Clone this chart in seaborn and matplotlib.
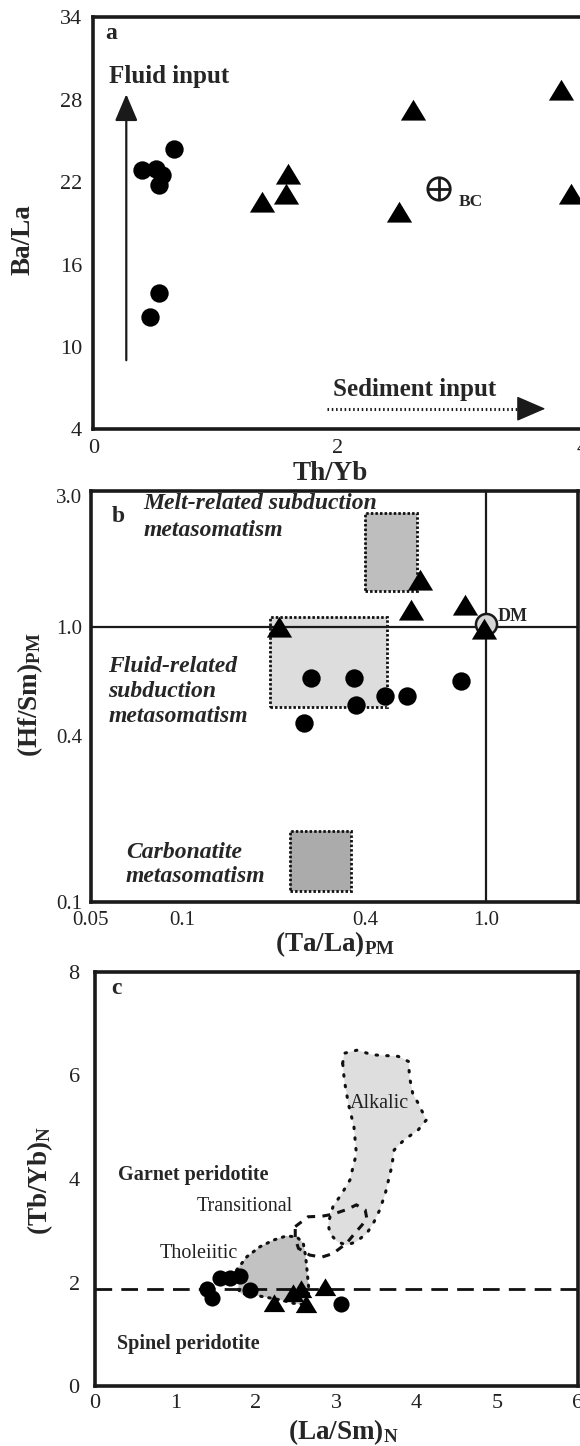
import numpy as np
import pandas as pd
import matplotlib
matplotlib.use("Agg")
import matplotlib.pyplot as plt
import seaborn as sns
from matplotlib.path import Path
from matplotlib.patches import Rectangle, Polygon
from matplotlib.ticker import FixedLocator, FuncFormatter, NullFormatter

sns.set_style("white")
plt.rcParams["font.family"] = ["Liberation Serif", "DejaVu Serif"]
plt.rcParams["mathtext.fontset"] = "custom"
plt.rcParams["mathtext.rm"] = "Liberation Serif"
plt.rcParams["mathtext.bf"] = "Liberation Serif:bold"
plt.rcParams["mathtext.it"] = "Liberation Serif:italic"

# ---------------- data: panel a (Th/Yb vs Ba/La) ----------------
a_circ_x = [0.40, 0.51, 0.56, 0.54, 0.66, 0.54, 0.46]
a_circ_y = [22.86, 22.95, 22.5, 21.76, 24.4, 13.96, 12.18]
a_tri_x = [1.38, 1.59, 1.58, 2.50, 2.62, 3.83, 3.91]
a_tri_y = [20.55, 22.56, 21.15, 19.8, 27.24, 28.7, 21.15]
bc_point = (2.83, 21.5)
a_xticks = [0, 1, 2, 3, 4]
a_xlabels = ["0", "", "2", "", "4"]
a_yticks = [4, 7, 10, 13, 16, 19, 22, 25, 28, 31, 34]
a_ylabels = ["4", "", "10", "", "16", "", "22", "", "28", "", "34"]

# ---------------- data: panel b ((Ta/La)PM vs (Hf/Sm)PM) ----------------
b_circ_x = [0.265, 0.367, 0.373, 0.464, 0.55, 0.251, 0.823]
b_circ_y = [0.653, 0.653, 0.521, 0.5625, 0.5625, 0.445, 0.634]
b_tri_x = [0.208, 0.604, 0.567, 0.854, 0.986]
b_tri_y = [1.0, 1.48, 1.15, 1.20, 0.986]
dm_point = (1.0, 1.02)
melt_box = (0.40, 0.593, 1.35, 2.6)
fluid_box = (0.194, 0.472, 0.51, 1.09)
carb_box = (0.227, 0.359, 0.109, 0.181)
b_xticks = [0.05, 0.1, 0.4, 1.0]
b_xlabels = ["0.05", "0.1", "0.4", "1.0"]
b_xminor = [0.2, 0.3, 0.5, 0.6, 0.7, 0.8, 0.9]
b_yticks = [0.1, 0.4, 1.0, 3.0]
b_ylabels = ["0.1", "0.4", "1.0", "3.0"]
b_yminor = [0.2, 0.3, 0.5, 0.6, 0.7, 0.8, 0.9, 2.0]

# ---------------- data: panel c ((La/Sm)N vs (Tb/Yb)N) ----------------
c_circ_x = [1.39, 1.45, 1.56, 1.68, 1.80, 1.93, 3.06]
c_circ_y = [1.87, 1.71, 2.08, 2.08, 2.12, 1.855, 1.585]
c_tri_x = [2.23, 2.46, 2.56, 2.63, 2.86]
c_tri_y = [1.60, 1.80, 1.87, 1.585, 1.92]
garnet_spinel_y = 1.88
thol_x = [1.76, 1.89, 2.05, 2.22, 2.38, 2.51, 2.59, 2.62, 2.64, 2.66, 2.64, 2.46, 2.32, 2.04, 1.81, 1.79]
thol_y = [2.24, 2.50, 2.69, 2.82, 2.90, 2.88, 2.76, 2.50, 2.18, 1.855, 1.565, 1.60, 1.66, 1.74, 1.79, 1.855]
trans_x = [2.49, 2.65, 2.82, 2.96, 3.13, 3.25, 3.36, 3.38, 3.32, 3.23, 3.13, 2.96, 2.82, 2.67, 2.53, 2.49]
trans_y = [3.08, 3.27, 3.28, 3.32, 3.41, 3.50, 3.40, 3.24, 3.11, 2.95, 2.76, 2.56, 2.49, 2.53, 2.66, 2.85]
alk_x = [3.08, 3.10, 3.26, 3.45, 3.77, 3.90, 3.91, 3.95, 4.02, 4.12, 4.02, 3.84, 3.72, 3.69, 3.65,
         3.61, 3.54, 3.46, 3.38, 3.25, 3.13, 3.01, 2.92, 2.90, 2.96, 3.07, 3.17, 3.21, 3.25, 3.22,
         3.15, 3.10]
alk_y = [6.24, 6.43, 6.49, 6.40, 6.37, 6.27, 5.98, 5.66, 5.46, 5.14, 4.95, 4.75, 4.56, 4.24, 3.98,
         3.72, 3.40, 3.14, 2.95, 2.79, 2.72, 2.79, 2.95, 3.14, 3.47, 3.72, 3.98, 4.24, 4.49, 5.01,
         5.46, 5.91]
c_xticks = [0, 1, 2, 3, 4, 5, 6]
c_yticks = [0, 2, 4, 6, 8]

# ---------------- figure ----------------
W, H = 580, 1446
fig = plt.figure(figsize=(W / 100, H / 100), dpi=100)


def box(l, r, t, b):
    return [l / W, 1 - b / H, (r - l) / W, (b - t) / H]


def fpos(x, y):
    return x / W, 1 - y / H


axa = fig.add_axes(box(93.3, 582, 17.3, 429.3))
axb = fig.add_axes(box(90.7, 577.8, 491, 901.7))
axc = fig.add_axes(box(95, 577.5, 972, 1386))

tri = Path([(-1, -0.8), (1, -0.8), (0, 0.85), (-1, -0.8)],
           [Path.MOVETO, Path.LINETO, Path.LINETO, Path.CLOSEPOLY])

BOLD = dict(fontweight="bold")
BI = dict(fontweight="bold", fontstyle="italic")
LBL = 19.5
TICKFS = 16

for ax in (axa, axb, axc):
    for s in ax.spines.values():
        s.set_linewidth(2.6)
        s.set_color("#1a1a1a")
        s.set_visible(True)
    ax.tick_params(which="both", direction="in", width=1.8, colors="#1a1a1a",
                   labelcolor="#222222", labelsize=TICKFS)
    ax.tick_params(which="major", length=7)
    ax.tick_params(which="minor", length=7)
    ax.tick_params(axis="x", which="both", pad=7, top=False)
    ax.tick_params(axis="y", which="both", right=False)
    ax.set_facecolor("white")

# ---------------- panel a ----------------
df_ac = pd.DataFrame({"x": a_circ_x, "y": a_circ_y})
df_at = pd.DataFrame({"x": a_tri_x, "y": a_tri_y})
sns.scatterplot(data=df_ac, x="x", y="y", ax=axa, marker="o", s=175, color="black",
                edgecolor="black", linewidth=0, zorder=4, legend=False)
sns.scatterplot(data=df_at, x="x", y="y", ax=axa, marker=tri, s=330, color="black",
                edgecolor="black", linewidth=0, zorder=4, legend=False, clip_on=False)
axa.scatter([bc_point[0]], [bc_point[1]], marker="o", s=260, facecolor="none",
            edgecolor="#1a1a1a", linewidth=2.0, zorder=4)
axa.scatter([bc_point[0]], [bc_point[1]], marker="+", s=260, color="#1a1a1a",
            linewidth=2.0, zorder=4)
axa.text(2.99, 20.57, "BC", fontsize=12.5, va="center", ha="left", **BOLD)

# fluid input arrow
axa.annotate("", xy=(0.27, 28.4), xytext=(0.27, 9.03),
             arrowprops=dict(arrowstyle="-|>,head_length=1.65,head_width=0.7",
                             lw=1.6, color="#1a1a1a", shrinkA=0, shrinkB=0))
axa.text(0.125, 29.7, "Fluid input", fontsize=18, va="center", ha="left", **BOLD)
# sediment input arrow: dotted shaft + solid head
axa.plot([1.91, 3.52], [5.5, 5.5], color="#1a1a1a", lw=2.2, ls=(0, (0.5, 0.9)),
         zorder=3)
axa.annotate("", xy=(3.7, 5.5), xytext=(3.50, 5.5),
             arrowprops=dict(arrowstyle="-|>,head_length=1.85,head_width=0.8",
                             lw=1.0, color="#1a1a1a", shrinkA=0, shrinkB=0))
axa.text(1.96, 6.92, "Sediment input", fontsize=18, va="center", ha="left", **BOLD)
axa.text(0.148, 32.8, "a", fontsize=17, va="center", ha="center", **BOLD)

axa.set_xlim(0, 4)
axa.set_ylim(4, 34)
axa.xaxis.set_major_locator(FixedLocator(a_xticks))
axa.set_xticklabels(a_xlabels)
axa.yaxis.set_major_locator(FixedLocator(a_yticks))
axa.set_yticklabels(a_ylabels)
axa.tick_params(axis="y", pad=8)
axa.set_xlabel("")
axa.set_ylabel("")
fig.text(*fpos(330, 474), "Th/Yb", fontsize=LBL, ha="center", va="center", **BOLD)
fig.text(*fpos(23, 240), "Ba/La", fontsize=LBL, ha="center", va="center",
         rotation=90, **BOLD)

# ---------------- panel b ----------------
axb.set_xscale("log")
axb.set_yscale("log")
axb.set_xlim(0.05, 2.0)
axb.set_ylim(0.1, 3.12)
for (x0, x1, y0, y1), fc in ((melt_box, "#bebebe"), (fluid_box, "#dddddd"),
                              (carb_box, "#ababab")):
    axb.add_patch(Rectangle((x0, y0), x1 - x0, y1 - y0, facecolor=fc, edgecolor="none",
                            zorder=1))
    axb.add_patch(Rectangle((x0, y0), x1 - x0, y1 - y0, facecolor="none",
                            edgecolor="#111111", lw=2.0, ls=(0, (0.9, 0.75)), zorder=2))
axb.axhline(1.0, color="#1a1a1a", lw=1.6, zorder=2)
axb.axvline(1.0, color="#1a1a1a", lw=1.6, zorder=2)
axb.scatter([dm_point[0]], [dm_point[1]], marker="o", s=230, facecolor="#d6d6d6",
            edgecolor="#1a1a1a", linewidth=1.8, zorder=3)
df_bc = pd.DataFrame({"x": b_circ_x, "y": b_circ_y})
df_bt = pd.DataFrame({"x": b_tri_x, "y": b_tri_y})
sns.scatterplot(data=df_bc, x="x", y="y", ax=axb, marker="o", s=175, color="black",
                edgecolor="black", linewidth=0, zorder=4, legend=False)
sns.scatterplot(data=df_bt, x="x", y="y", ax=axb, marker=tri, s=330, color="black",
                edgecolor="black", linewidth=0, zorder=4, legend=False)
axb.xaxis.set_major_locator(FixedLocator(b_xticks))
axb.xaxis.set_minor_locator(FixedLocator(b_xminor))
axb.xaxis.set_major_formatter(FuncFormatter(
    lambda v, p: b_xlabels[b_xticks.index(v)] if v in b_xticks else ""))
axb.xaxis.set_minor_formatter(NullFormatter())
axb.yaxis.set_major_locator(FixedLocator(b_yticks))
axb.yaxis.set_minor_locator(FixedLocator(b_yminor))
axb.yaxis.set_major_formatter(FuncFormatter(
    lambda v, p: b_ylabels[b_yticks.index(v)] if v in b_yticks else ""))
axb.yaxis.set_minor_formatter(NullFormatter())
axb.tick_params(axis="both", labelsize=15)
axb.tick_params(axis="y", pad=6)
axb.set_xlabel("")
axb.set_ylabel("")

TXT_B = 17
axb.text(0.056, 0.937, "b", transform=axb.transAxes, fontsize=17, ha="center",
         va="center", **BOLD)
axb.text(0.108, 0.970, "Melt-related subduction", transform=axb.transAxes,
         fontsize=TXT_B, ha="left", va="center", **BI)
axb.text(0.108, 0.903, "metasomatism", transform=axb.transAxes, fontsize=TXT_B,
         ha="left", va="center", **BI)
axb.text(0.036, 0.573, "Fluid-related", transform=axb.transAxes, fontsize=TXT_B,
         ha="left", va="center", **BI)
axb.text(0.036, 0.511, "subduction", transform=axb.transAxes, fontsize=TXT_B,
         ha="left", va="center", **BI)
axb.text(0.036, 0.452, "metasomatism", transform=axb.transAxes, fontsize=TXT_B,
         ha="left", va="center", **BI)
axb.text(0.072, 0.120, "Carbonatite", transform=axb.transAxes, fontsize=TXT_B,
         ha="left", va="center", **BI)
axb.text(0.072, 0.061, "metasomatism", transform=axb.transAxes, fontsize=TXT_B,
         ha="left", va="center", **BI)
axb.text(0.835, 0.694, "DM", transform=axb.transAxes, fontsize=13, ha="left",
         va="center", **BOLD)
fig.text(*fpos(335, 944), r"$\mathbf{(Ta/La)}_\mathbf{PM}$", fontsize=LBL,
         ha="center", va="center")
fig.text(*fpos(30, 695), r"$\mathbf{(Hf/Sm)}_\mathbf{PM}$", fontsize=LBL,
         ha="center", va="center", rotation=90)

# ---------------- panel c ----------------
axc.set_xlim(0, 6)
axc.set_ylim(0, 8)
alk = np.column_stack([alk_x, alk_y])
thol = np.column_stack([thol_x, thol_y])
trans = np.column_stack([trans_x, trans_y])
axc.add_patch(Polygon(alk, closed=True, facecolor="#dedede", edgecolor="none", zorder=1))
axc.add_patch(Polygon(alk, closed=True, facecolor="none", edgecolor="#111111", lw=2.2,
                      ls=(0, (0.5, 3.0)), zorder=2, capstyle="round"))
axc.add_patch(Polygon(thol, closed=True, facecolor="#c2c2c2", edgecolor="none", zorder=1))
axc.add_patch(Polygon(thol, closed=True, facecolor="none", edgecolor="#111111", lw=2.2,
                      ls=(0, (0.5, 2.2)), zorder=2, capstyle="round"))
axc.add_patch(Polygon(trans, closed=True, facecolor="none", edgecolor="#111111", lw=2.2,
                      ls=(0, (2.6, 2.4)), zorder=2))
axc.axhline(garnet_spinel_y, color="#111111", lw=2.0, ls=(0, (6, 3.3)), zorder=2)
df_cc = pd.DataFrame({"x": c_circ_x, "y": c_circ_y})
df_ct = pd.DataFrame({"x": c_tri_x, "y": c_tri_y})
sns.scatterplot(data=df_cc, x="x", y="y", ax=axc, marker="o", s=135, color="black",
                edgecolor="black", linewidth=0, zorder=4, legend=False)
sns.scatterplot(data=df_ct, x="x", y="y", ax=axc, marker=tri, s=240, color="black",
                edgecolor="black", linewidth=0, zorder=4, legend=False)
axc.xaxis.set_major_locator(FixedLocator(c_xticks))
axc.yaxis.set_major_locator(FixedLocator(c_yticks))
axc.tick_params(axis="y", pad=11)
axc.tick_params(axis="x", pad=6)
axc.set_xlabel("")
axc.set_ylabel("")
axc.text(0.27, 7.68, "c", fontsize=17, ha="center", va="center", **BOLD)
axc.text(3.54, 5.46, "Alkalic", fontsize=14.5, ha="center", va="center", color="#222222")
axc.text(0.28, 4.08, "Garnet peridotite", fontsize=14.5, ha="left", va="center", **BOLD)
axc.text(1.26, 3.47, "Transitional", fontsize=14.5, ha="left", va="center", color="#222222")
axc.text(0.80, 2.56, "Tholeiitic", fontsize=14.5, ha="left", va="center", color="#222222")
axc.text(0.27, 0.82, "Spinel peridotite", fontsize=14.5, ha="left", va="center", **BOLD)
fig.text(*fpos(343, 1432), r"$\mathbf{(La/Sm)}_\mathbf{N}$", fontsize=LBL,
         ha="center", va="center")
fig.text(*fpos(40, 1180), r"$\mathbf{(Tb/Yb)}_\mathbf{N}$", fontsize=LBL,
         ha="center", va="center", rotation=90)

fig.savefig("out.png", dpi=100, facecolor="white")
